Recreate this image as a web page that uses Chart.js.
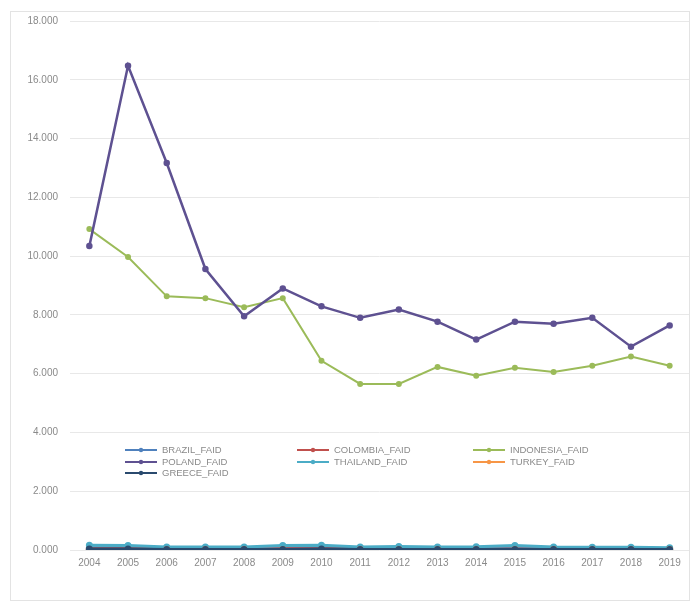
<!DOCTYPE html>
<html>
<head>
<meta charset="utf-8">
<script src="https://cdn.jsdelivr.net/npm/chart.js@4/dist/chart.umd.min.js"></script>
<style>
    html, body { margin: 0; padding: 0; background: #fff; }
    #wrap { position: relative; width: 694px; height: 602px; }
    #frame { position: absolute; left: 10px; top: 11px; width: 678px; height: 588px; border: 1px solid #e3e3e3; pointer-events: none; }
    canvas { position: absolute; left: 0; top: 0; }
</style>
</head>
<body>
<div id="wrap">
    <canvas id="faidChart" width="694" height="602"></canvas>
    <div id="frame"></div>
</div>
<script>
const years = ['2004', '2005', '2006', '2007', '2008', '2009', '2010', '2011', '2012', '2013', '2014', '2015', '2016', '2017', '2018', '2019'];

const brazilFaid = [0.08, 0.08, 0.06, 0.06, 0.06, 0.07, 0.08, 0.06, 0.07, 0.06, 0.06, 0.07, 0.06, 0.06, 0.06, 0.05];
const colombiaFaid = [0.04, 0.04, 0.04, 0.03, 0.03, 0.04, 0.04, 0.03, 0.03, 0.03, 0.03, 0.03, 0.03, 0.03, 0.03, 0.03];
const indonesiaFaid = [10.92, 9.97, 8.63, 8.57, 8.26, 8.57, 6.44, 5.65, 5.65, 6.23, 5.93, 6.2, 6.06, 6.27, 6.58, 6.27];
const polandFaid = [10.34, 16.48, 13.17, 9.56, 7.95, 8.9, 8.29, 7.9, 8.18, 7.77, 7.16, 7.77, 7.7, 7.9, 6.92, 7.64];
const thailandFaid = [0.16, 0.15, 0.1, 0.1, 0.1, 0.15, 0.16, 0.1, 0.12, 0.1, 0.11, 0.15, 0.1, 0.09, 0.09, 0.08];
const turkeyFaid = [0.02, 0.02, 0.02, 0.02, 0.02, 0.02, 0.02, 0.02, 0.02, 0.02, 0.02, 0.02, 0.02, 0.02, 0.02, 0.02];
const greeceFaid = [0.03, 0.03, 0.02, 0.02, 0.02, 0.02, 0.03, 0.02, 0.02, 0.02, 0.02, 0.02, 0.02, 0.02, 0.02, 0.02];

const seriesNames = ['BRAZIL_FAID', 'COLOMBIA_FAID', 'INDONESIA_FAID', 'POLAND_FAID', 'THAILAND_FAID', 'TURKEY_FAID', 'GREECE_FAID'];
const seriesValues = [brazilFaid, colombiaFaid, indonesiaFaid, polandFaid, thailandFaid, turkeyFaid, greeceFaid];
const seriesColors = ['#4f81bd', '#c0504d', '#9bbb59', '#5e5191', '#4bacc6', '#f79646', '#2a4a6e'];
const seriesWidths = [3, 3, 2, 2.5, 3, 3, 3];
const yTicks = [0, 2, 4, 6, 8, 10, 12, 14, 16, 18];

const textColor = '#8a8a8a';
const fontFamily = '"Liberation Sans", "DejaVu Sans", sans-serif';

// legend sits inside the plot, in a 3 column grid like the Excel original
const insideLegend = {
    id: 'insideLegend',
    afterDraw(chart) {
        const ctx = chart.ctx;
        const colX = [125, 297, 473];
        const rowY = [450, 462, 473];
        ctx.save();
        ctx.font = '9.5px ' + fontFamily;
        ctx.textBaseline = 'middle';
        ctx.textAlign = 'left';
        chart.data.datasets.forEach((ds, i) => {
            const x = colX[i % 3];
            const y = rowY[Math.floor(i / 3)];
            ctx.strokeStyle = ds.borderColor;
            ctx.lineWidth = 2;
            ctx.beginPath();
            ctx.moveTo(x, y);
            ctx.lineTo(x + 32, y);
            ctx.stroke();
            ctx.fillStyle = ds.borderColor;
            ctx.beginPath();
            ctx.arc(x + 16, y, 2.2, 0, Math.PI * 2);
            ctx.fill();
            ctx.fillStyle = textColor;
            ctx.fillText(ds.label, x + 37, y + 0.5);
        });
        ctx.restore();
    }
};

function buildDatasets() {
    return seriesNames.map((name, i) => ({
        label: name,
        data: seriesValues[i],
        borderColor: seriesColors[i],
        backgroundColor: seriesColors[i],
        borderWidth: seriesWidths[i],
        pointRadius: 2,
        pointHoverRadius: 2,
        pointStyle: 'circle',
        tension: 0,
        order: seriesNames.length - i
    }));
}

function initChart() {
    const ctx = document.getElementById('faidChart');
    return new Chart(ctx, {
        type: 'line',
        data: {
            labels: years,
            datasets: buildDatasets()
        },
        options: {
            responsive: false,
            animation: false,
            layout: { padding: { top: 21, right: 2, left: 0, bottom: 0 } },
            plugins: {
                legend: { display: false },
                tooltip: { enabled: false }
            },
            scales: {
                x: {
                    offset: true,
                    grid: { display: false, drawTicks: false },
                    border: { display: false },
                    ticks: {
                        color: textColor,
                        font: { size: 10, family: fontFamily },
                        padding: 7,
                        maxRotation: 0,
                        autoSkip: false
                    },
                    afterFit: s => { s.height = 52; }
                },
                y: {
                    min: 0,
                    max: 18,
                    afterBuildTicks: s => { s.ticks = yTicks.map(v => ({ value: v })); },
                    grid: { color: '#e8e8e8', lineWidth: 1, drawTicks: false },
                    border: { display: false },
                    ticks: {
                        color: textColor,
                        font: { size: 10, family: fontFamily },
                        padding: 12,
                        callback: v => v.toFixed(3)
                    },
                    afterFit: s => { s.width = 70; }
                }
            }
        },
        plugins: [insideLegend]
    });
}

document.addEventListener('DOMContentLoaded', () => {
    initChart();
});
</script>
</body>
</html>
